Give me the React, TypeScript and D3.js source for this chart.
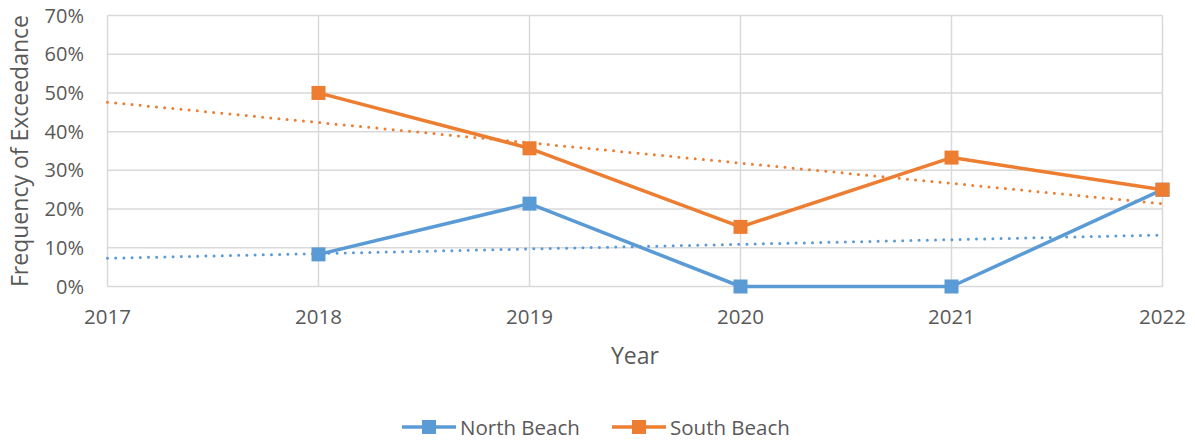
import * as React from 'react'
import { useEffect, useRef } from 'react'
import * as d3 from 'd3'

const years = [2017, 2018, 2019, 2020, 2021, 2022]
const dataYears = [2018, 2019, 2020, 2021, 2022]
const northBeach = [8.3, 21.4, 0, 0, 25]
const southBeach = [50, 35.7, 15.4, 33.3, 25]
// linear trendline end points (2017 and 2022)
const trendYears = [2017, 2022]
const northTrend = [7.3, 13.3]
const southTrend = [47.6, 21.4]
const yTicks = [0, 10, 20, 30, 40, 50, 60, 70]

const BLUE = '#5B9BD5'
const ORANGE = '#ED7D31'
const GRID = '#D9D9D9'
const TEXT = '#595959'
const FONT = "'Open Sans', sans-serif"

const App = () => {
    const chartRef = useRef<SVGSVGElement>(null)
    const width = 1195
    const height = 440

    useEffect((): void => {
        const svg = d3.select(chartRef.current)
        svg.selectAll('*').remove()

        const xScale = d3.scaleLinear().domain([2017, 2022]).range([107.5, 1162.5])
        const yScale = d3.scaleLinear().domain([0, 70]).range([286.5, 15.5])

        // gridlines
        svg.append('g')
            .selectAll('line')
            .data(yTicks)
            .enter()
            .append('line')
            .attr('x1', xScale(2017))
            .attr('x2', xScale(2022))
            .attr('y1', d => yScale(d))
            .attr('y2', d => yScale(d))
            .attr('stroke', GRID)
            .attr('stroke-width', 1.5)

        svg.append('g')
            .selectAll('line')
            .data(years)
            .enter()
            .append('line')
            .attr('x1', d => xScale(d))
            .attr('x2', d => xScale(d))
            .attr('y1', yScale(0))
            .attr('y2', yScale(70))
            .attr('stroke', GRID)
            .attr('stroke-width', 1.5)

        // y tick labels
        svg.append('g')
            .selectAll('text')
            .data(yTicks)
            .enter()
            .append('text')
            .attr('x', 84)
            .attr('y', d => yScale(d) + 7)
            .style('text-anchor', 'end')
            .style('font-size', '20px')
            .style('font-family', FONT)
            .attr('fill', TEXT)
            .text(d => d + '%')

        // x tick labels
        svg.append('g')
            .selectAll('text')
            .data(years)
            .enter()
            .append('text')
            .attr('x', d => xScale(d))
            .attr('y', 324)
            .style('text-anchor', 'middle')
            .style('font-size', '20.5px')
            .style('font-family', FONT)
            .attr('fill', TEXT)
            .text(d => d)

        // axis titles
        svg.append('text')
            .attr('transform', 'translate(28, 151) rotate(-90)')
            .style('text-anchor', 'middle')
            .style('font-size', '23px')
            .style('font-family', FONT)
            .attr('fill', TEXT)
            .text('Frequency of Exceedance')

        svg.append('text')
            .attr('x', 635)
            .attr('y', 364)
            .style('text-anchor', 'middle')
            .style('font-size', '23px')
            .style('font-family', FONT)
            .attr('fill', TEXT)
            .text('Year')

        const line = d3.line<[number, number]>()
            .x(d => xScale(d[0]))
            .y(d => yScale(d[1]))

        // trendlines
        const trends = [
            { values: northTrend, color: BLUE },
            { values: southTrend, color: ORANGE },
        ]
        trends.forEach(t => {
            svg.append('path')
                .attr('d', line(trendYears.map((y, i) => [y, t.values[i]] as [number, number])))
                .attr('fill', 'none')
                .attr('stroke', t.color)
                .attr('stroke-width', 3)
                .attr('stroke-linecap', 'round')
                .attr('stroke-dasharray', '0 8.2')
        })

        const series = [
            { values: northBeach, color: BLUE },
            { values: southBeach, color: ORANGE },
        ]
        series.forEach(s => {
            const pts = dataYears.map((y, i) => [y, s.values[i]] as [number, number])
            svg.append('path')
                .attr('d', line(pts))
                .attr('fill', 'none')
                .attr('stroke', s.color)
                .attr('stroke-width', 3.5)
                .attr('stroke-linejoin', 'round')
            svg.append('g')
                .selectAll('rect')
                .data(pts)
                .enter()
                .append('rect')
                .attr('x', d => xScale(d[0]) - 7)
                .attr('y', d => yScale(d[1]) - 7)
                .attr('width', 14)
                .attr('height', 14)
                .attr('fill', s.color)
        })

        // legend
        const legend = [
            { name: 'North Beach', color: BLUE, x: 402 },
            { name: 'South Beach', color: ORANGE, x: 612 },
        ]
        legend.forEach(l => {
            const g = svg.append('g').attr('transform', `translate(${l.x}, 427)`)
            g.append('line')
                .attr('x1', 0).attr('x2', 54)
                .attr('y1', 0).attr('y2', 0)
                .attr('stroke', l.color)
                .attr('stroke-width', 3.5)
            g.append('rect')
                .attr('x', 20).attr('y', -7)
                .attr('width', 14).attr('height', 14)
                .attr('fill', l.color)
            g.append('text')
                .attr('x', 58)
                .attr('y', 7.5)
                .style('font-size', '20.5px')
                .style('font-family', FONT)
                .attr('fill', TEXT)
                .text(l.name)
        })
    }, [])

    return (
        <svg ref={chartRef} width={width} height={height}
            style={{ position: 'absolute', left: 0, top: 0, background: '#fff' }}></svg>
    )
}

export default App
